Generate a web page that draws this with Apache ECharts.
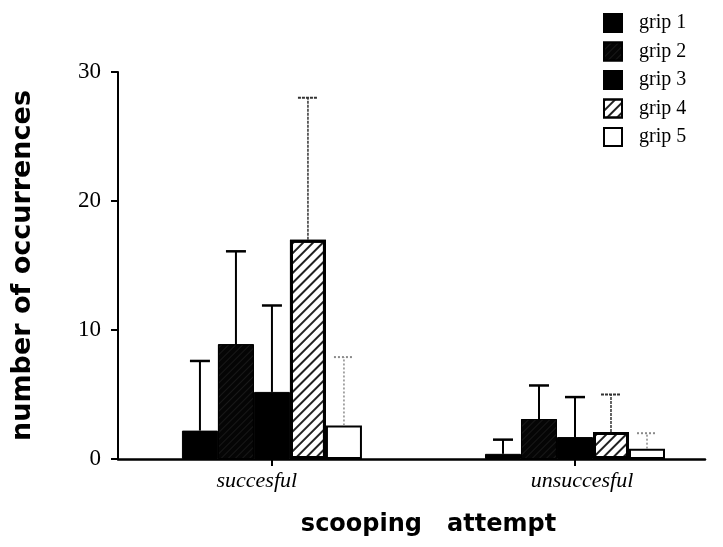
<!DOCTYPE html>
<html>
<head>
<meta charset="utf-8">
<script src="https://cdn.jsdelivr.net/npm/echarts@6/dist/echarts.min.js"></script>
<style>
  html, body { margin: 0; padding: 0; background: #fff; }
  #chart { width: 723px; height: 547px; }
</style>
</head>
<body>
<div id="chart"></div>
<script>
// scooping attempt outcome per grip type: mean and upper error bar
const categories = ['succesful', 'unsuccesful'];
const gripNames = ['grip 1', 'grip 2', 'grip 3', 'grip 4', 'grip 5'];

const grip1 = [2.2, 0.4];
const grip2 = [8.9, 3.1];
const grip3 = [5.2, 1.7];
const grip4 = [17.0, 2.1];
const grip5 = [2.6, 0.8];

const grip1Upper = [7.6, 1.5];
const grip2Upper = [16.1, 5.7];
const grip3Upper = [11.9, 4.8];
const grip4Upper = [28.0, 5.0];
const grip5Upper = [7.9, 2.0];

const yTicks = [0, 10, 20, 30];

const means = [grip1, grip2, grip3, grip4, grip5];
const uppers = [grip1Upper, grip2Upper, grip3Upper, grip4Upper, grip5Upper];

const BAR_W = 36;
const serif = 'Liberation Serif';
const sans = 'DejaVu Sans';

const barStyles = [
    { color: '#000', borderColor: '#000', borderWidth: 1 },
    {
        color: '#050505', borderColor: '#000', borderWidth: 1,
        decal: { symbol: 'rect', symbolSize: 1, color: 'rgba(255,255,255,0.08)', dashArrayX: [1, 0], dashArrayY: [1, 4], rotation: -Math.PI / 4 }
    },
    { color: '#000', borderColor: '#000', borderWidth: 1 },
    {
        color: '#fff', borderColor: '#000', borderWidth: 3,
        decal: { symbol: 'rect', symbolSize: 1, color: '#222', dashArrayX: [1, 0], dashArrayY: [1.3, 5], rotation: -Math.PI / 4 }
    },
    { color: '#fff', borderColor: '#000', borderWidth: 2 }
];

const errStyles = [
    { stroke: '#000', lineWidth: 2, lineDash: null },
    { stroke: '#000', lineWidth: 2, lineDash: null },
    { stroke: '#000', lineWidth: 2, lineDash: null },
    { stroke: '#333', lineWidth: 1.5, lineDash: [3, 1] },
    { stroke: '#8a8a8a', lineWidth: 1.5, lineDash: [2, 2] }
];

const barSeries = gripNames.map((name, k) => ({
    name: name,
    type: 'bar',
    barWidth: BAR_W,
    barGap: '0%',
    itemStyle: barStyles[k],
    emphasis: { disabled: true },
    data: categories.map((c, i) => [i, means[k][i]])
}));

const errSeries = gripNames.map((name, k) => ({
    type: 'custom',
    name: name + ' err',
    silent: true,
    z: 5,
    encode: { x: 0, y: 2 },
    data: categories.map((c, i) => [i, means[k][i], uppers[k][i]]),
    renderItem: function (params, api) {
        const base = api.coord([api.value(0), api.value(1)]);
        const top = api.coord([api.value(0), api.value(2)]);
        const cx = base[0] + (k - 2) * BAR_W;
        const s = errStyles[k];
        const style = { stroke: s.stroke, lineWidth: s.lineWidth, lineDash: s.lineDash };
        return {
            type: 'group',
            children: [
                { type: 'line', shape: { x1: cx, y1: base[1], x2: cx, y2: top[1] }, style: style },
                { type: 'line', shape: { x1: cx - 10, y1: top[1], x2: cx + 10, y2: top[1] }, style: Object.assign({}, style, { lineWidth: s.lineWidth + 0.5 }) }
            ]
        };
    }
}));

const chart = echarts.init(document.getElementById('chart'));

chart.setOption({
    animation: false,
    backgroundColor: '#fff',
    grid: { left: 118, right: 18, top: 72, bottom: 88 },
    legend: {
        orient: 'vertical',
        left: 598,
        top: 8,
        icon: 'rect',
        itemWidth: 18,
        itemHeight: 18,
        itemGap: 8.5,
        data: gripNames,
        textStyle: { fontFamily: serif, fontSize: 20, color: '#000', padding: [0, 0, 0, 12] }
    },
    xAxis: {
        type: 'value',
        min: -0.508,
        max: 1.429,
        name: 'scooping   attempt',
        nameLocation: 'middle',
        nameGap: 54,
        nameTextStyle: { fontFamily: sans, fontWeight: 'bold', fontSize: 24, color: '#000', padding: [0, 0, 0, 34] },
        axisLine: { lineStyle: { color: '#000', width: 2.5 } },
        axisTick: { customValues: [0, 1], length: 7, lineStyle: { color: '#000', width: 2 } },
        axisLabel: {
            // labels sit slightly off the ticks in the original
            customValues: [-0.05, 1.023],
            formatter: v => categories[Math.round(v)],
            margin: 11,
            fontFamily: serif,
            fontStyle: 'italic',
            fontSize: 22,
            color: '#000'
        },
        splitLine: { show: false }
    },
    yAxis: {
        type: 'value',
        min: 0,
        max: 30,
        interval: 10,
        name: 'number of occurrences',
        nameLocation: 'middle',
        nameRotate: 90,
        nameGap: 82,
        nameTextStyle: { fontFamily: sans, fontWeight: 'bold', fontSize: 27, color: '#000' },
        axisLine: { show: true, onZero: false, lineStyle: { color: '#000', width: 2 } },
        axisTick: { show: true, length: 7, lineStyle: { color: '#000', width: 2 } },
        axisLabel: {
            margin: 17,
            fontFamily: serif,
            fontSize: 23,
            color: '#000',
            formatter: v => (yTicks.indexOf(v) >= 0 ? String(v) : '')
        },
        splitLine: { show: false }
    },
    series: barSeries.concat(errSeries)
});
</script>
</body>
</html>
